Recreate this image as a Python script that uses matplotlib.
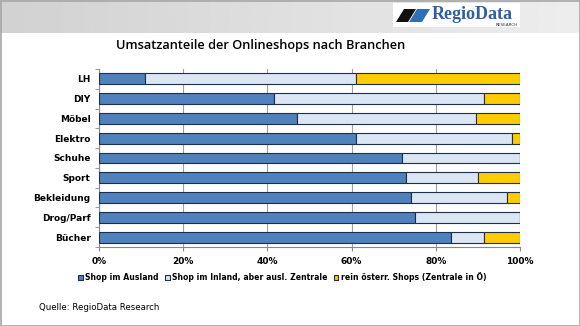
import matplotlib.pyplot as plt
import numpy as np
from matplotlib.patches import Rectangle, Polygon

categories = ['LH', 'DIY', 'Möbel', 'Elektro', 'Schuhe', 'Sport', 'Bekleidung', 'Drog/Parf', 'Bücher']
ausland = [11, 41.5, 47, 61, 72, 73, 74, 75, 83.5]
inland = [50, 50, 42.5, 37, 28, 17, 23, 25, 8]
oesterr = [39, 8.5, 10.5, 2, 0, 10, 3, 0, 8.5]
series_names = ['Shop im Ausland', 'Shop im Inland, aber ausl. Zentrale',
                'rein österr. Shops (Zentrale in Ö)']
colors = ['#4f81bd', '#dbe6f4', '#ffcc00']
xticks = [0, 20, 40, 60, 80, 100]

W, H = 580, 326
fig = plt.figure(figsize=(W / 100, H / 100), dpi=100)

# header band with logo
bg = fig.add_axes([0, 0, 1, 1])
bg.set_xlim(0, W)
bg.set_ylim(H, 0)
bg.axis('off')
grad = np.linspace(0.82, 0.93, 256).reshape(1, -1)
bg.imshow(grad, extent=[0, W, 33, 0], cmap='gray', vmin=0, vmax=1, aspect='auto')
bg.add_patch(Rectangle((0.5, 0.5), W - 1, H - 1, fill=False, ec='#a6a6a6', lw=1.2))
bg.add_patch(Rectangle((393, 3), 127, 24, fc='white', ec='none'))
bg.add_patch(Polygon([(396, 22), (404, 9), (416, 9), (408, 22)], fc='#111111'))
bg.add_patch(Polygon([(409, 22), (417, 9), (430, 9), (422, 22)], fc='#2f6fb5'))
bg.text(432, 19, 'RegioData', fontsize=13, family='Liberation Serif', fontweight='bold',
        color='#2f5f9f', va='baseline')
bg.text(518, 25.5, 'RESEARCH', fontsize=3, color='#333333', ha='right', va='baseline')
bg.text(261, 45, 'Umsatzanteile der Onlineshops nach Branchen', fontsize=9.2,
        family='Open Sans', fontweight='semibold', ha='center', va='center', color='black')
bg.text(39, 307, 'Quelle: RegioData Research', fontsize=6.2, va='center', color='black')

ax = fig.add_axes([99 / W, 1 - 247 / H, 421 / W, 178 / H])
y = np.arange(len(categories))
left = np.zeros(len(categories))
for vals, c, name in zip([ausland, inland, oesterr], colors, series_names):
    ax.barh(y, vals, left=left, height=0.55, color=c, edgecolor='#1f2f4a',
            linewidth=0.8, label=name, zorder=3)
    left = left + np.array(vals)

ax.set_xlim(0, 100)
ax.set_ylim(len(categories) - 0.5, -0.5)
ax.set_xticks(xticks)
ax.set_xticklabels([f'{t}%' for t in xticks], fontsize=6.5, fontweight='bold')
ax.set_yticks(y)
ax.set_yticklabels(categories, fontsize=6.5, fontweight='bold')
ax.set_yticks(np.arange(len(categories) + 1) - 0.5, minor=True)
ax.tick_params(axis='y', which='major', length=0, pad=6)
ax.tick_params(axis='y', which='minor', length=3, color='#888888')
ax.tick_params(axis='x', length=3, color='#888888', pad=4)
ax.grid(axis='x', color='#a0a0a0', lw=0.8, zorder=0)
for s in ['top', 'right']:
    ax.spines[s].set_visible(False)
ax.spines['left'].set_color('#888888')
ax.spines['bottom'].set_color('#888888')

ax.legend(loc='center', bbox_to_anchor=(0.435, -0.17), ncol=3, frameon=False,
          prop={'size': 5.6, 'weight': 'bold'}, handlelength=0.6, handleheight=0.6,
          handletextpad=0.3, columnspacing=0.8)

fig.savefig('out.png', dpi=100)
